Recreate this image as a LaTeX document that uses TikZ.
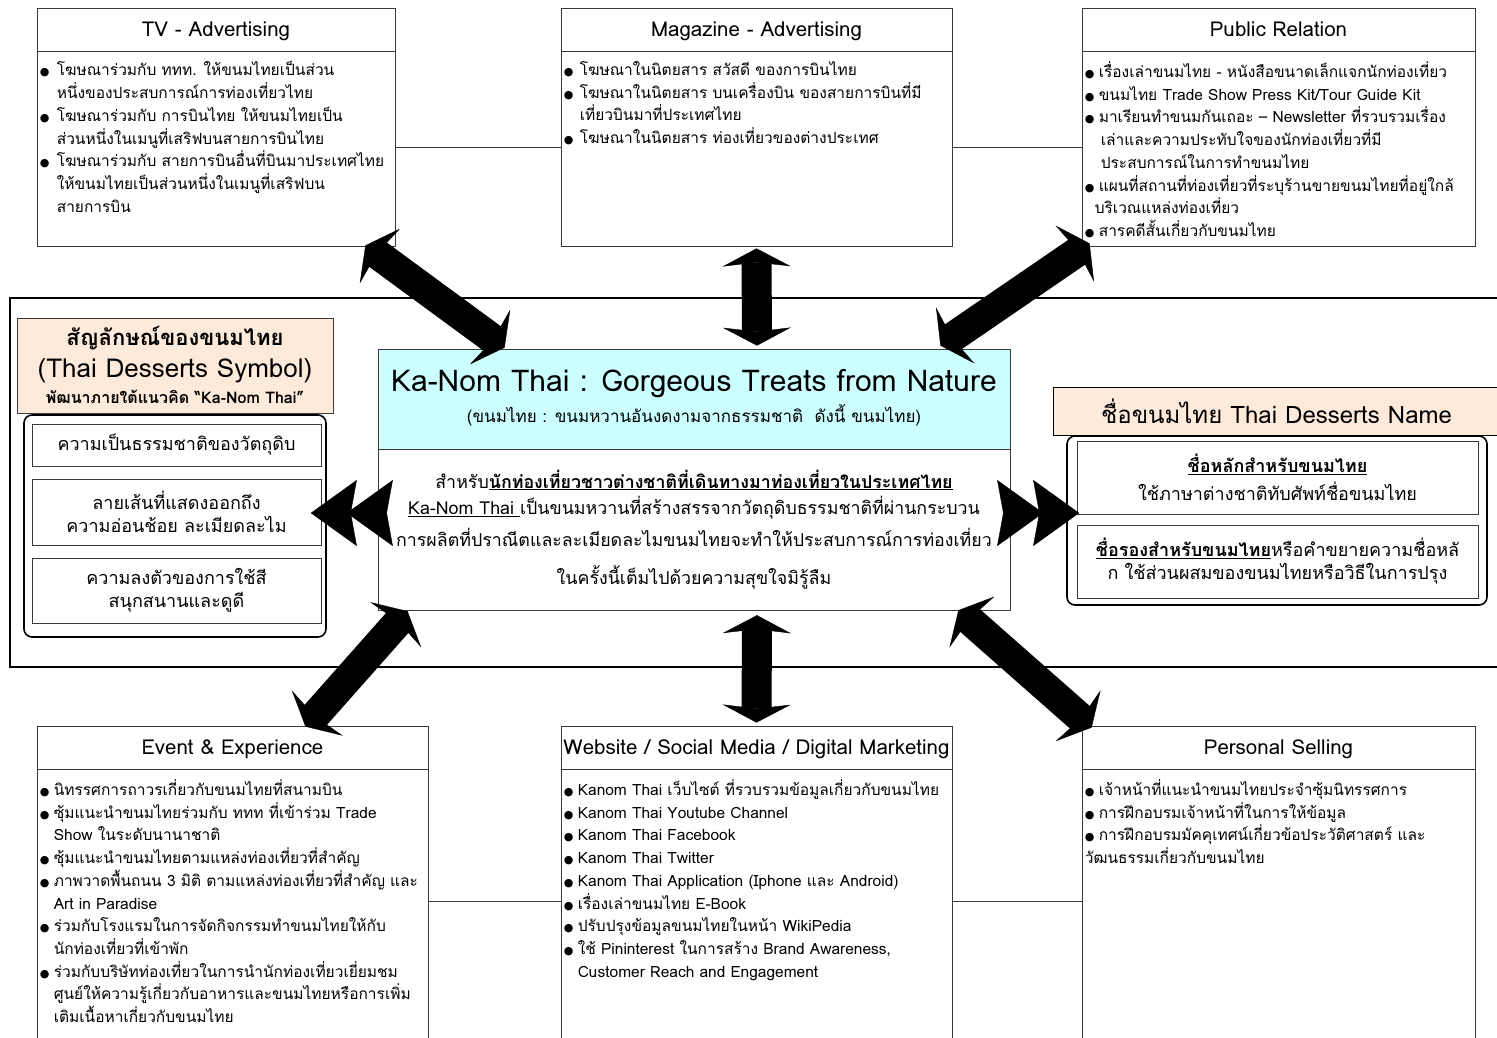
\documentclass[tikz,border=0pt]{standalone}
\usepackage{fontspec}
\setmainfont{Loma}[Script=Thai]
\newfontfamily\symfont{DejaVu Sans}
\usepackage{tikz}
\usetikzlibrary{arrows.meta,calc,positioning}
\definecolor{peachfill}{HTML}{FDEADA}
\definecolor{hubcyan}{HTML}{CCFFFF}
\definecolor{boxline}{HTML}{3A3A3A}
\newcommand{\bul}[1][14pt]{\makebox[#1][l]{\symfont\fontsize{11}{11}\selectfont ●}}
\newcommand{\ind}[1][14pt]{\hspace*{#1}}

\begin{document}
\begin{tikzpicture}[x=1pt,y=-1pt,font=\fontsize{15.5}{22.7}\selectfont,
  mixbox/.style={draw=boxline,fill=white,line width=0.8pt,inner sep=0pt},
  headband/.style={draw=boxline,line width=0.8pt,minimum height=43pt,inner sep=0pt,
    text depth=0pt,font=\fontsize{20.5}{24}\selectfont},
  itemlist/.style={anchor=north west,align=left,inner sep=2pt},
  innerbox/.style={draw=boxline,fill=white,line width=0.8pt,inner sep=0pt,align=center,
    font=\fontsize{18}{23}\selectfont},
  roundbox/.style={draw=black,line width=1.6pt,rounded corners=8pt,inner sep=0pt},
  linkline/.style={draw=boxline,line width=0.8pt},
  fatarrow/.style={line width=30pt,
    {Stealth[length=18pt,width=68pt,inset=4pt,line width=0.4pt]}-{Stealth[length=18pt,width=68pt,inset=4pt,line width=0.4pt]}},
  chevron/.style={line width=0.5pt,
    -{Stealth[length=46pt,width=66pt,inset=6pt,line width=0.4pt,sep=-10pt]Stealth[length=46pt,width=66pt,inset=6pt,line width=0.4pt]}}]
  \useasboundingbox (0,0) rectangle (1497,1037);
  \clip (0,0) rectangle (1497,1037);

  % middle frame
  \draw[line width=1.6pt] (10,298) rectangle (1510,667);

  % top row
  \node[mixbox,minimum width=358pt,minimum height=238pt] (tv) at (216,127) {};
  \node[mixbox,minimum width=391pt,minimum height=238pt] (mag) at (756.5,127) {};
  \node[mixbox,minimum width=393pt,minimum height=238pt] (pr) at (1278.5,127) {};
  \draw[linkline] (tv.east |- 0,147) -- (mag.west |- 0,147);
  \draw[linkline] (mag.east |- 0,147) -- (pr.west |- 0,147);
  \node[headband,minimum width=358pt,anchor=north] (tvhead) at (tv.north) {TV - Advertising};
  \node[headband,minimum width=391pt,anchor=north] (maghead) at (mag.north) {Magazine - Advertising};
  \node[headband,minimum width=393pt,anchor=north] (prhead) at (pr.north) {Public Relation};

  \node[itemlist] (tvlist) at ([xshift=1pt,yshift=-8pt]tvhead.south west) {%
    \bul[17pt]โฆษณาร่วมกับ ททท. ให้ขนมไทยเป็นส่วน\\
    \ind[17pt]หนึ่งของประสบการณ์การท่องเที่ยวไทย\\
    \bul[17pt]โฆษณาร่วมกับ การบินไทย ให้ขนมไทยเป็น\\
    \ind[17pt]ส่วนหนึ่งในเมนูที่เสริฟบนสายการบินไทย\\
    \bul[17pt]โฆษณาร่วมกับ สายการบินอื่นที่บินมาประเทศไทย\\
    \ind[17pt]ให้ขนมไทยเป็นส่วนหนึ่งในเมนูที่เสริฟบน\\
    \ind[17pt]สายการบิน};
  \node[itemlist] (maglist) at ([xshift=1pt,yshift=-8pt]maghead.south west) {%
    \bul[16pt]โฆษณาในนิตยสาร สวัสดี ของการบินไทย\\
    \bul[16pt]โฆษณาในนิตยสาร บนเครื่องบิน ของสายการบินที่มี\\
    \ind[16pt]เที่ยวบินมาที่ประเทศไทย\\
    \bul[16pt]โฆษณาในนิตยสาร ท่องเที่ยวของต่างประเทศ};
  \node[itemlist] (prlist) at ([xshift=1pt,yshift=-8pt]prhead.south west) {%
    \bul เรื่องเล่าขนมไทย - หนังสือขนาดเล็กแจกนักท่องเที่ยว\\
    \bul ขนมไทย Trade Show Press Kit/Tour Guide Kit\\
    \bul มาเรียนทำขนมกันเถอะ – Newsletter ที่รวบรวมเรื่อง\\
    \ind[16pt]เล่าและความประทับใจของนักท่องเที่ยวที่มี\\
    \ind[16pt]ประสบการณ์ในการทำขนมไทย\\
    \bul แผนที่สถานที่ท่องเที่ยวที่ระบุร้านขายขนมไทยที่อยู่ใกล้\\
    \ind[10pt]บริเวณแหล่งท่องเที่ยว\\
    \bul สารคดีสั้นเกี่ยวกับขนมไทย};

  % symbol group (left)
  \node[draw=boxline,fill=peachfill,line width=0.8pt,minimum width=316pt,minimum height=95pt] (symhead) at (175,365.5) {};
  \node[font=\bfseries\fontsize{22}{26}\selectfont] (symtitle) at (175,338) {สัญลักษณ์ของขนมไทย};
  \node[font=\fontsize{26}{30}\selectfont] (symeng) at (175,371) {(Thai Desserts Symbol)};
  \node[font=\bfseries\fontsize{16}{18}\selectfont] (symnote) at (175,397) {พัฒนาภายใต้แนวคิด “Ka-Nom Thai”};
  \node[roundbox,minimum width=302pt,minimum height=222pt] (symbox) at (175,526) {};
  \node[innerbox,minimum width=289pt,minimum height=42pt] (symA) at (176.5,445) {ความเป็นธรรมชาติของวัตถุดิบ};
  \node[innerbox,minimum width=289pt,minimum height=66pt] (symB) at (176.5,512) {ลายเส้นที่แสดงออกถึง\\ความอ่อนช้อย ละเมียดละไม};
  \node[innerbox,minimum width=289pt,minimum height=65pt] (symC) at (176.5,590.5) {ความลงตัวของการใช้สี\\สนุกสนานและดูดี};

  % hub (centre)
  \node[draw=boxline,fill=hubcyan,line width=0.8pt,minimum width=632pt,minimum height=100pt] (hubhead) at (694,399) {};
  \node[font=\fontsize{30}{32}\selectfont] (hubtitle) at (694,384) {Ka-Nom Thai : Gorgeous Treats from Nature};
  \node[font=\fontsize{17}{20}\selectfont] (hubsub) at (694,415) {(ขนมไทย : ขนมหวานอันงดงามจากธรรมชาติ \ ดังนี้ ขนมไทย)};
  \node[draw=boxline,fill=white,line width=0.8pt,minimum width=632pt,minimum height=161pt,anchor=north] (hub) at (hubhead.south) {};
  \node[font=\fontsize{17.8}{20}\selectfont] (hubA) at (694,480) {สำหรับ\underline{\bfseries นักท่องเที่ยวชาวต่างชาติที่เดินทางมาท่องเที่ยวในประเทศไทย}};
  \node[font=\fontsize{17.8}{20}\selectfont] (hubB) at (694,508) {\underline{Ka-Nom Thai }เป็นขนมหวานที่สร้างสรรจากวัตถุดิบธรรมชาติที่ผ่านกระบวน};
  \node[font=\fontsize{17.8}{20}\selectfont] (hubC) at (694,537) {การผลิตที่ปราณีตและละเมียดละไมขนมไทยจะทำให้ประสบการณ์การท่องเที่ยว};
  \node[font=\fontsize{17.8}{20}\selectfont] (hubD) at (694,577) {ในครั้งนี้เต็มไปด้วยความสุขใจมิรู้ลืม};

  % name group (right)
  \node[draw=black,fill=peachfill,line width=1pt,minimum width=447pt,minimum height=48pt,
    font=\fontsize{24}{28}\selectfont] (namehead) at (1276.5,411) {ชื่อขนมไทย Thai Desserts Name};
  \node[roundbox,minimum width=420pt,minimum height=169pt] (namebox) at (1277,520.5) {};
  \node[innerbox,minimum width=401pt,minimum height=73pt,font=\fontsize{18}{28}\selectfont] (nameA) at (1277.5,477.5)
    {\underline{\bfseries ชื่อหลักสำหรับขนมไทย}\\ใช้ภาษาต่างชาติทับศัพท์ชื่อขนมไทย};
  \node[innerbox,minimum width=401pt,minimum height=73pt] (nameB) at (1277.5,561.5)
    {\underline{\bfseries ชื่อรองสำหรับขนมไทย}หรือคำขยายความชื่อหลั\\ก ใช้ส่วนผสมของขนมไทยหรือวิธีในการปรุง};

  % bottom row
  \node[mixbox,minimum width=391pt,minimum height=319pt] (event) at (232.5,885.5) {};
  \node[mixbox,minimum width=391pt,minimum height=319pt] (web) at (756.5,885.5) {};
  \node[mixbox,minimum width=393pt,minimum height=319pt] (sell) at (1278.5,885.5) {};
  \draw[linkline] (event.east |- 0,901) -- (web.west |- 0,901);
  \draw[linkline] (web.east |- 0,901) -- (sell.west |- 0,901);
  \node[headband,minimum width=391pt,anchor=north] (eventhead) at (event.north) {Event \& Experience};
  \node[headband,minimum width=391pt,anchor=north] (webhead) at (web.north) {Website / Social Media / Digital Marketing};
  \node[headband,minimum width=393pt,anchor=north] (sellhead) at (sell.north) {Personal Selling};

  \node[itemlist] (eventlist) at ([xshift=1pt,yshift=-8pt]eventhead.south west) {%
    \bul นิทรรศการถาวรเกี่ยวกับขนมไทยที่สนามบิน\\
    \bul ซุ้มแนะนำขนมไทยร่วมกับ ททท ที่เข้าร่วม Trade\\
    \ind Show ในระดับนานาชาติ\\
    \bul ซุ้มแนะนำขนมไทยตามแหล่งท่องเที่ยวที่สำคัญ\\
    \bul ภาพวาดพื้นถนน 3 มิติ ตามแหล่งท่องเที่ยวที่สำคัญ และ\\
    \ind Art in Paradise\\
    \bul ร่วมกับโรงแรมในการจัดกิจกรรมทำขนมไทยให้กับ\\
    \ind นักท่องเที่ยวที่เข้าพัก\\
    \bul ร่วมกับบริษัทท่องเที่ยวในการนำนักท่องเที่ยวเยี่ยมชม\\
    \ind ศูนย์ให้ความรู้เกี่ยวกับอาหารและขนมไทยหรือการเพิ่ม\\
    \ind เติมเนื้อหาเกี่ยวกับขนมไทย};
  \node[itemlist] (weblist) at ([xshift=1pt,yshift=-8pt]webhead.south west) {%
    \bul Kanom Thai เว็บไซต์ ที่รวบรวมข้อมูลเกี่ยวกับขนมไทย\\
    \bul Kanom Thai Youtube Channel\\
    \bul Kanom Thai Facebook\\
    \bul Kanom Thai Twitter\\
    \bul Kanom Thai Application (Iphone และ Android)\\
    \bul เรื่องเล่าขนมไทย E-Book\\
    \bul ปรับปรุงข้อมูลขนมไทยในหน้า WikiPedia\\
    \bul ใช้ Pininterest ในการสร้าง Brand Awareness,\\
    \ind Customer Reach and Engagement};
  \node[itemlist] (selllist) at ([xshift=1pt,yshift=-8pt]sellhead.south west) {%
    \bul เจ้าหน้าที่แนะนำขนมไทยประจำซุ้มนิทรรศการ\\
    \bul การฝึกอบรมเจ้าหน้าที่ในการให้ข้อมูล\\
    \bul การฝึกอบรมมัคคุเทศน์เกี่ยวข้อประวัติศาสตร์ และ\\
    วัฒนธรรมเกี่ยวกับขนมไทย};

  % arrow ends
  \coordinate (tvtip) at ($(tv.south east)+(-30,-1)$);
  \coordinate (magtip) at ($(mag.south)+(0,2)$);
  \coordinate (prtip) at ($(pr.south west)+(8,-3)$);
  \coordinate (hubtipA) at ($(hubhead.north west)+(127,-1)$);
  \coordinate (hubtipB) at ($(hubhead.north)+(63,-3)$);
  \coordinate (hubtipC) at ($(hubhead.north east)+(-70,-3)$);
  \coordinate (hubleft) at (hub.west |- 0,513);
  \coordinate (symtip) at ($(symbox.east |- 0,513)+(-16,0)$);
  \coordinate (hubright) at (hub.east |- 0,513);
  \coordinate (nametip) at ($(namebox.west |- 0,513)+(13,0)$);
  \coordinate (hubtipD) at ($(hub.south west)+(30,0)$);
  \coordinate (hubtipE) at ($(hub.south)+(63,4)$);
  \coordinate (hubtipF) at ($(hub.south east)+(-52,-1)$);
  \coordinate (eventtip) at ($(event.north east)+(-123,1)$);
  \coordinate (webtip) at ($(web.north)+(0,-3)$);
  \coordinate (selltip) at ($(sell.north west)+(10,2)$);

  % arrows
  \draw[fatarrow] (tvtip) -- (hubtipA);
  \draw[fatarrow] (magtip) -- (hubtipB);
  \draw[fatarrow] (prtip) -- (hubtipC);
  \draw[chevron] (hubleft) -- (symtip);
  \draw[chevron] (hubright) -- (nametip);
  \draw[fatarrow] (hubtipD) -- (eventtip);
  \draw[fatarrow] (hubtipE) -- (webtip);
  \draw[fatarrow] (hubtipF) -- (selltip);
\end{tikzpicture}
\end{document}
